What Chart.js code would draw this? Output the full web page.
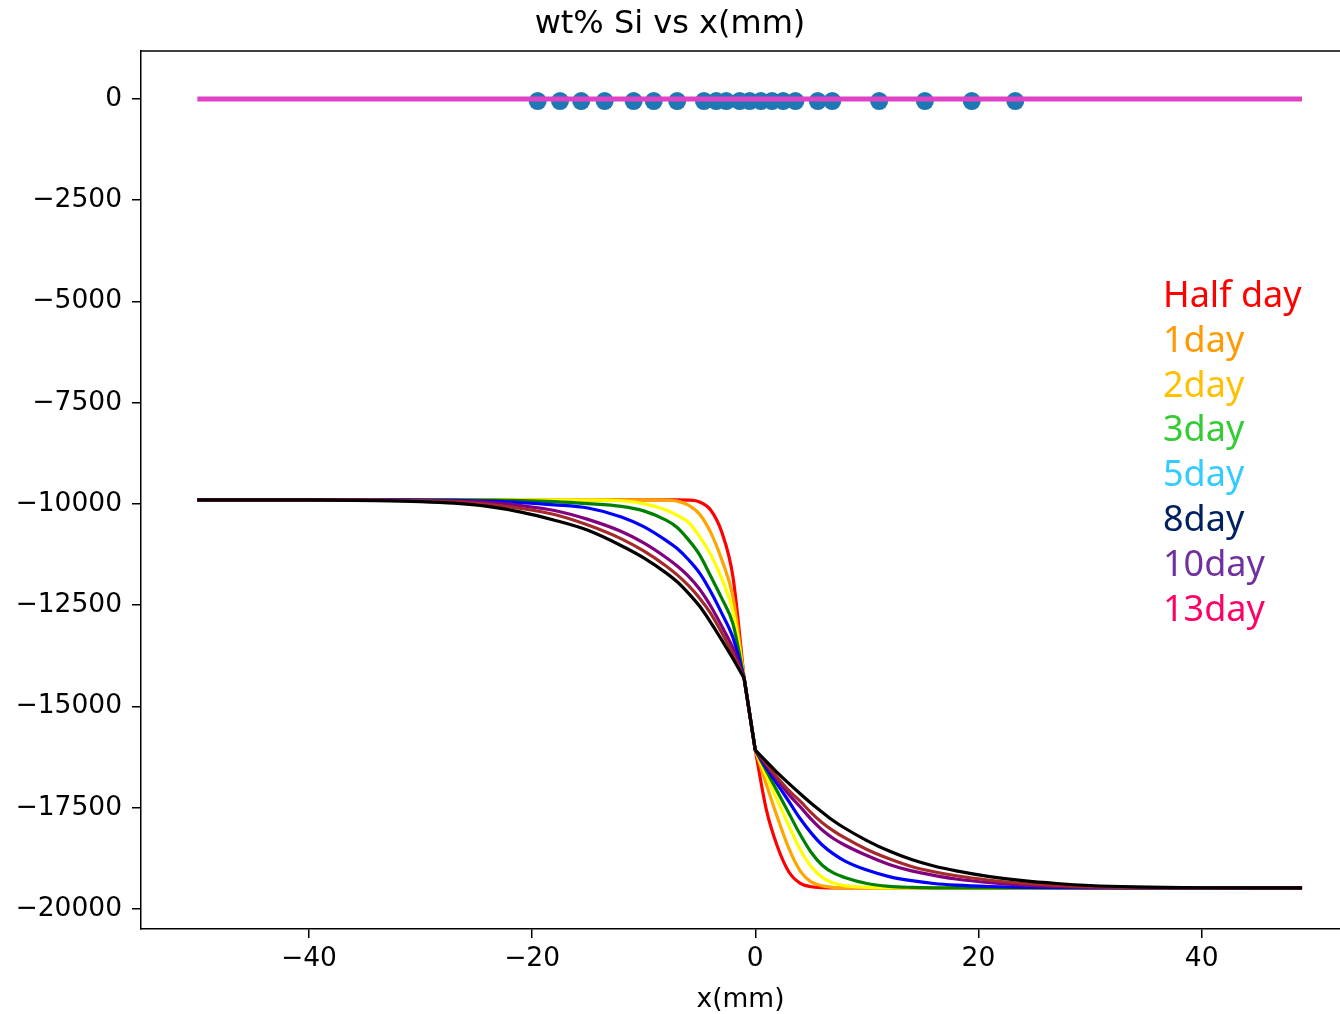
<!DOCTYPE html>
<html lang="en">
<head>
    <meta charset="UTF-8">
    <title>wt% Si vs x(mm)</title>
    <style>
        html, body { margin: 0; padding: 0; background: #fff; overflow: hidden; }
        canvas { display: block; }
    </style>
</head>
<body>
    <canvas id="profileChart" width="1340" height="1014"></canvas>

    <script src="https://cdn.jsdelivr.net/npm/chart.js"></script>
    <script>
        // Position grid (mm) shared by all diffusion profiles
        const xGrid = [-50, -40, -34, -30, -27, -24, -21, -18, -15, -12, -10, -8, -7, -6, -5, -4, -3, -2, -1,
                       0, 1, 2, 3, 4, 5, 6, 7, 8, 10, 12, 14, 16, 18, 21, 24, 27, 30, 34, 40, 49];

        // Profiles, one per annealing time
        const halfDay = [-9900, -9900, -9900, -9900, -9900, -9900, -9900, -9900, -9900, -9900, -9900, -9900, -9900, -9905, -9950, -10150, -10700, -11800, -14300,
                         -16080, -17560, -18470, -19080, -19360, -19450, -19475, -19480, -19480, -19480, -19480, -19480, -19480, -19480, -19480, -19480, -19480, -19480, -19480, -19480, -19480];
        const day1 = [-9900, -9900, -9900, -9900, -9900, -9900, -9900, -9900, -9900, -9900, -9900, -9905, -9930, -10030, -10250, -10700, -11380, -12300, -14300,
                      -16080, -16930, -17750, -18500, -19050, -19330, -19430, -19468, -19478, -19480, -19480, -19480, -19480, -19480, -19480, -19480, -19480, -19480, -19480, -19480, -19480];
        const day2 = [-9900, -9900, -9900, -9900, -9900, -9900, -9900, -9900, -9905, -9920, -9990, -10150, -10280, -10450, -10800, -11250, -11850, -12650, -14300,
                      -16080, -16720, -17330, -17940, -18520, -18950, -19220, -19360, -19425, -19465, -19478, -19480, -19480, -19480, -19480, -19480, -19480, -19480, -19480, -19480, -19480];
        const day3 = [-9900, -9900, -9900, -9900, -9900, -9905, -9915, -9940, -9990, -10060, -10170, -10400, -10580, -10880, -11250, -11780, -12330, -12960, -14300,
                      -16080, -16590, -17110, -17630, -18150, -18600, -18920, -19110, -19220, -19370, -19440, -19466, -19477, -19480, -19480, -19480, -19480, -19480, -19480, -19480, -19480];
        const day5 = [-9900, -9900, -9900, -9902, -9910, -9930, -9965, -10020, -10100, -10320, -10560, -10900, -11100, -11370, -11700, -12160, -12700, -13300, -14300,
                      -16080, -16520, -16930, -17340, -17760, -18120, -18420, -18640, -18810, -19040, -19200, -19300, -19370, -19410, -19445, -19465, -19475, -19480, -19480, -19480, -19480];
        const day8 = [-9900, -9900, -9903, -9910, -9930, -9960, -10040, -10160, -10380, -10680, -10960, -11320, -11530, -11780, -12100, -12520, -13020, -13560, -14300,
                      -16080, -16450, -16820, -17170, -17470, -17780, -18050, -18260, -18420, -18680, -18900, -19060, -19170, -19260, -19350, -19410, -19445, -19465, -19475, -19480, -19480];
        const day10 = [-9900, -9900, -9905, -9920, -9950, -10010, -10110, -10260, -10520, -10860, -11160, -11530, -11750, -12010, -12320, -12700, -13180, -13700, -14300,
                       -16080, -16420, -16760, -17070, -17330, -17620, -17870, -18070, -18240, -18530, -18760, -18950, -19080, -19180, -19290, -19370, -19420, -19450, -19470, -19478, -19480];
        const day13 = [-9900, -9900, -9915, -9940, -9980, -10060, -10200, -10400, -10650, -11030, -11330, -11700, -11920, -12200, -12520, -12920, -13360, -13820, -14300,
                       -16080, -16360, -16640, -16900, -17150, -17390, -17610, -17820, -18000, -18310, -18570, -18780, -18940, -19060, -19200, -19300, -19370, -19420, -19455, -19475, -19480];

        const profiles = [halfDay, day1, day2, day3, day5, day8, day10, day13];
        const profileColors = ['red', 'orange', 'yellow', 'green', 'blue', 'purple', 'brown', 'black'];

        // Measured points and the flat reference line
        const measuredX = [-19.5, -17.5, -15.6, -13.5, -10.9, -9.1, -7.0, -4.6, -3.5, -2.6, -1.4, -0.5,
                           0.5, 1.5, 2.5, 3.6, 5.6, 6.9, 11.1, 15.2, 19.4, 23.3];
        const measuredY = [-50, -50, -50, -50, -50, -50, -50, -50, -50, -50, -50, -50,
                           -50, -50, -50, -50, -50, -50, -50, -50, -50, -50];
        const refLineX = [-50, 49];
        const refLineY = [0, 0];

        // Axis ticks
        const xTicks = [-40, -20, 0, 20, 40];
        const xTickLabels = ['\u221240', '\u221220', '0', '20', '40'];
        const yTicks = [0, -2500, -5000, -7500, -10000, -12500, -15000, -17500, -20000];
        const yTickLabels = ['0', '\u22122500', '\u22125000', '\u22127500', '\u221210000', '\u221212500', '\u221215000', '\u221217500', '\u221220000'];

        // Text annotations on the right
        const dayLabels = ['Half day', '1day', '2day', '3day', '5day', '8day', '10day', '13day'];
        const dayLabelColors = ['#ff0000', '#ff9a00', '#ffc000', '#33cc33', '#33ccff', '#002060', '#7030a0', '#ff0066'];

        const toPoints = (xs, ys) => xs.map((x, i) => ({ x: x, y: ys[i] }));

        const datasets = [];
        datasets.push({
            label: 'fit',
            data: toPoints(refLineX, refLineY),
            borderColor: '#e042c6',
            borderWidth: 5,
            pointRadius: 0,
            order: 0
        });
        datasets.push({
            label: 'measured',
            data: toPoints(measuredX, measuredY),
            showLine: false,
            pointRadius: 9,
            pointBackgroundColor: '#1f77b4',
            pointBorderWidth: 0,
            borderColor: '#1f77b4',
            order: 1
        });

        // each profile: smooth branch on either side of the interface, straight jump across it
        const iLeft = xGrid.indexOf(-1);
        const iRight = xGrid.indexOf(0);
        profiles.forEach((p, i) => {
            const pts = toPoints(xGrid, p);
            const common = {
                label: dayLabels[i],
                borderColor: profileColors[i],
                borderWidth: 3.2,
                pointRadius: 0,
                order: 9 - i
            };
            datasets.push({ ...common, data: pts.slice(0, iLeft + 1), cubicInterpolationMode: 'monotone' });
            datasets.push({ ...common, data: pts.slice(iLeft, iRight + 1) });
            datasets.push({ ...common, data: pts.slice(iRight), cubicInterpolationMode: 'monotone' });
        });

        // Spine along the top of the plot area + day labels
        const extras = {
            id: 'extras',
            afterDraw(chart) {
                const { ctx, chartArea } = chart;
                ctx.save();
                ctx.strokeStyle = '#000';
                ctx.lineWidth = 1.5;
                ctx.beginPath();
                ctx.moveTo(chartArea.left, chartArea.top);
                ctx.lineTo(chartArea.right, chartArea.top);
                ctx.stroke();

                ctx.font = '36px "Noto Sans"';
                ctx.textAlign = 'left';
                ctx.textBaseline = 'alphabetic';
                dayLabels.forEach((t, i) => {
                    ctx.fillStyle = dayLabelColors[i];
                    ctx.fillText(t, 1163, 307 + i * 44.8);
                });
                ctx.restore();
            }
        };

        const tickFont = { family: 'DejaVu Sans', size: 26.5 };

        new Chart(document.getElementById('profileChart'), {
            type: 'line',
            data: { datasets: datasets },
            plugins: [extras],
            options: {
                responsive: false,
                animation: false,
                devicePixelRatio: 1,
                layout: { padding: 0, autoPadding: false },
                plugins: {
                    legend: { display: false },
                    tooltip: { enabled: false },
                    title: {
                        display: true,
                        text: 'wt% Si vs x(mm)',
                        color: '#000',
                        font: { family: 'DejaVu Sans', size: 32, weight: 'normal' },
                        padding: { top: 5, bottom: 7.6 }
                    }
                },
                scales: {
                    x: {
                        type: 'linear',
                        min: -55.05,
                        max: 52.4,
                        afterBuildTicks: (axis) => { axis.ticks = xTicks.map(v => ({ value: v })); },
                        afterFit: (axis) => {
                            axis.height = 85;
                            axis.paddingLeft = 0;
                            axis.paddingRight = 0;
                        },
                        border: { display: true, color: '#000', width: 1.5 },
                        grid: { drawOnChartArea: false, drawTicks: true, tickLength: 9, color: '#000', lineWidth: 1.5 },
                        ticks: {
                            color: '#000',
                            font: tickFont,
                            padding: 5,
                            maxRotation: 0,
                            callback: (v) => xTickLabels[xTicks.indexOf(v)]
                        },
                        title: {
                            display: true,
                            text: 'x(mm)',
                            color: '#000',
                            font: tickFont,
                            padding: { top: 0, bottom: -2 }
                        }
                    },
                    y: {
                        type: 'linear',
                        min: -20494,
                        max: 1185,
                        afterBuildTicks: (axis) => { axis.ticks = yTicks.map(v => ({ value: v })); },
                        afterFit: (axis) => {
                            axis.width = 141;
                            axis.paddingTop = 0;
                            axis.paddingBottom = 0;
                        },
                        border: { display: true, color: '#000', width: 1.5 },
                        grid: { drawOnChartArea: false, drawTicks: true, tickLength: 9, color: '#000', lineWidth: 1.5 },
                        ticks: {
                            color: '#000',
                            font: tickFont,
                            padding: 10,
                            callback: (v) => yTickLabels[yTicks.indexOf(v)]
                        }
                    }
                }
            }
        });
    </script>
</body>
</html>
